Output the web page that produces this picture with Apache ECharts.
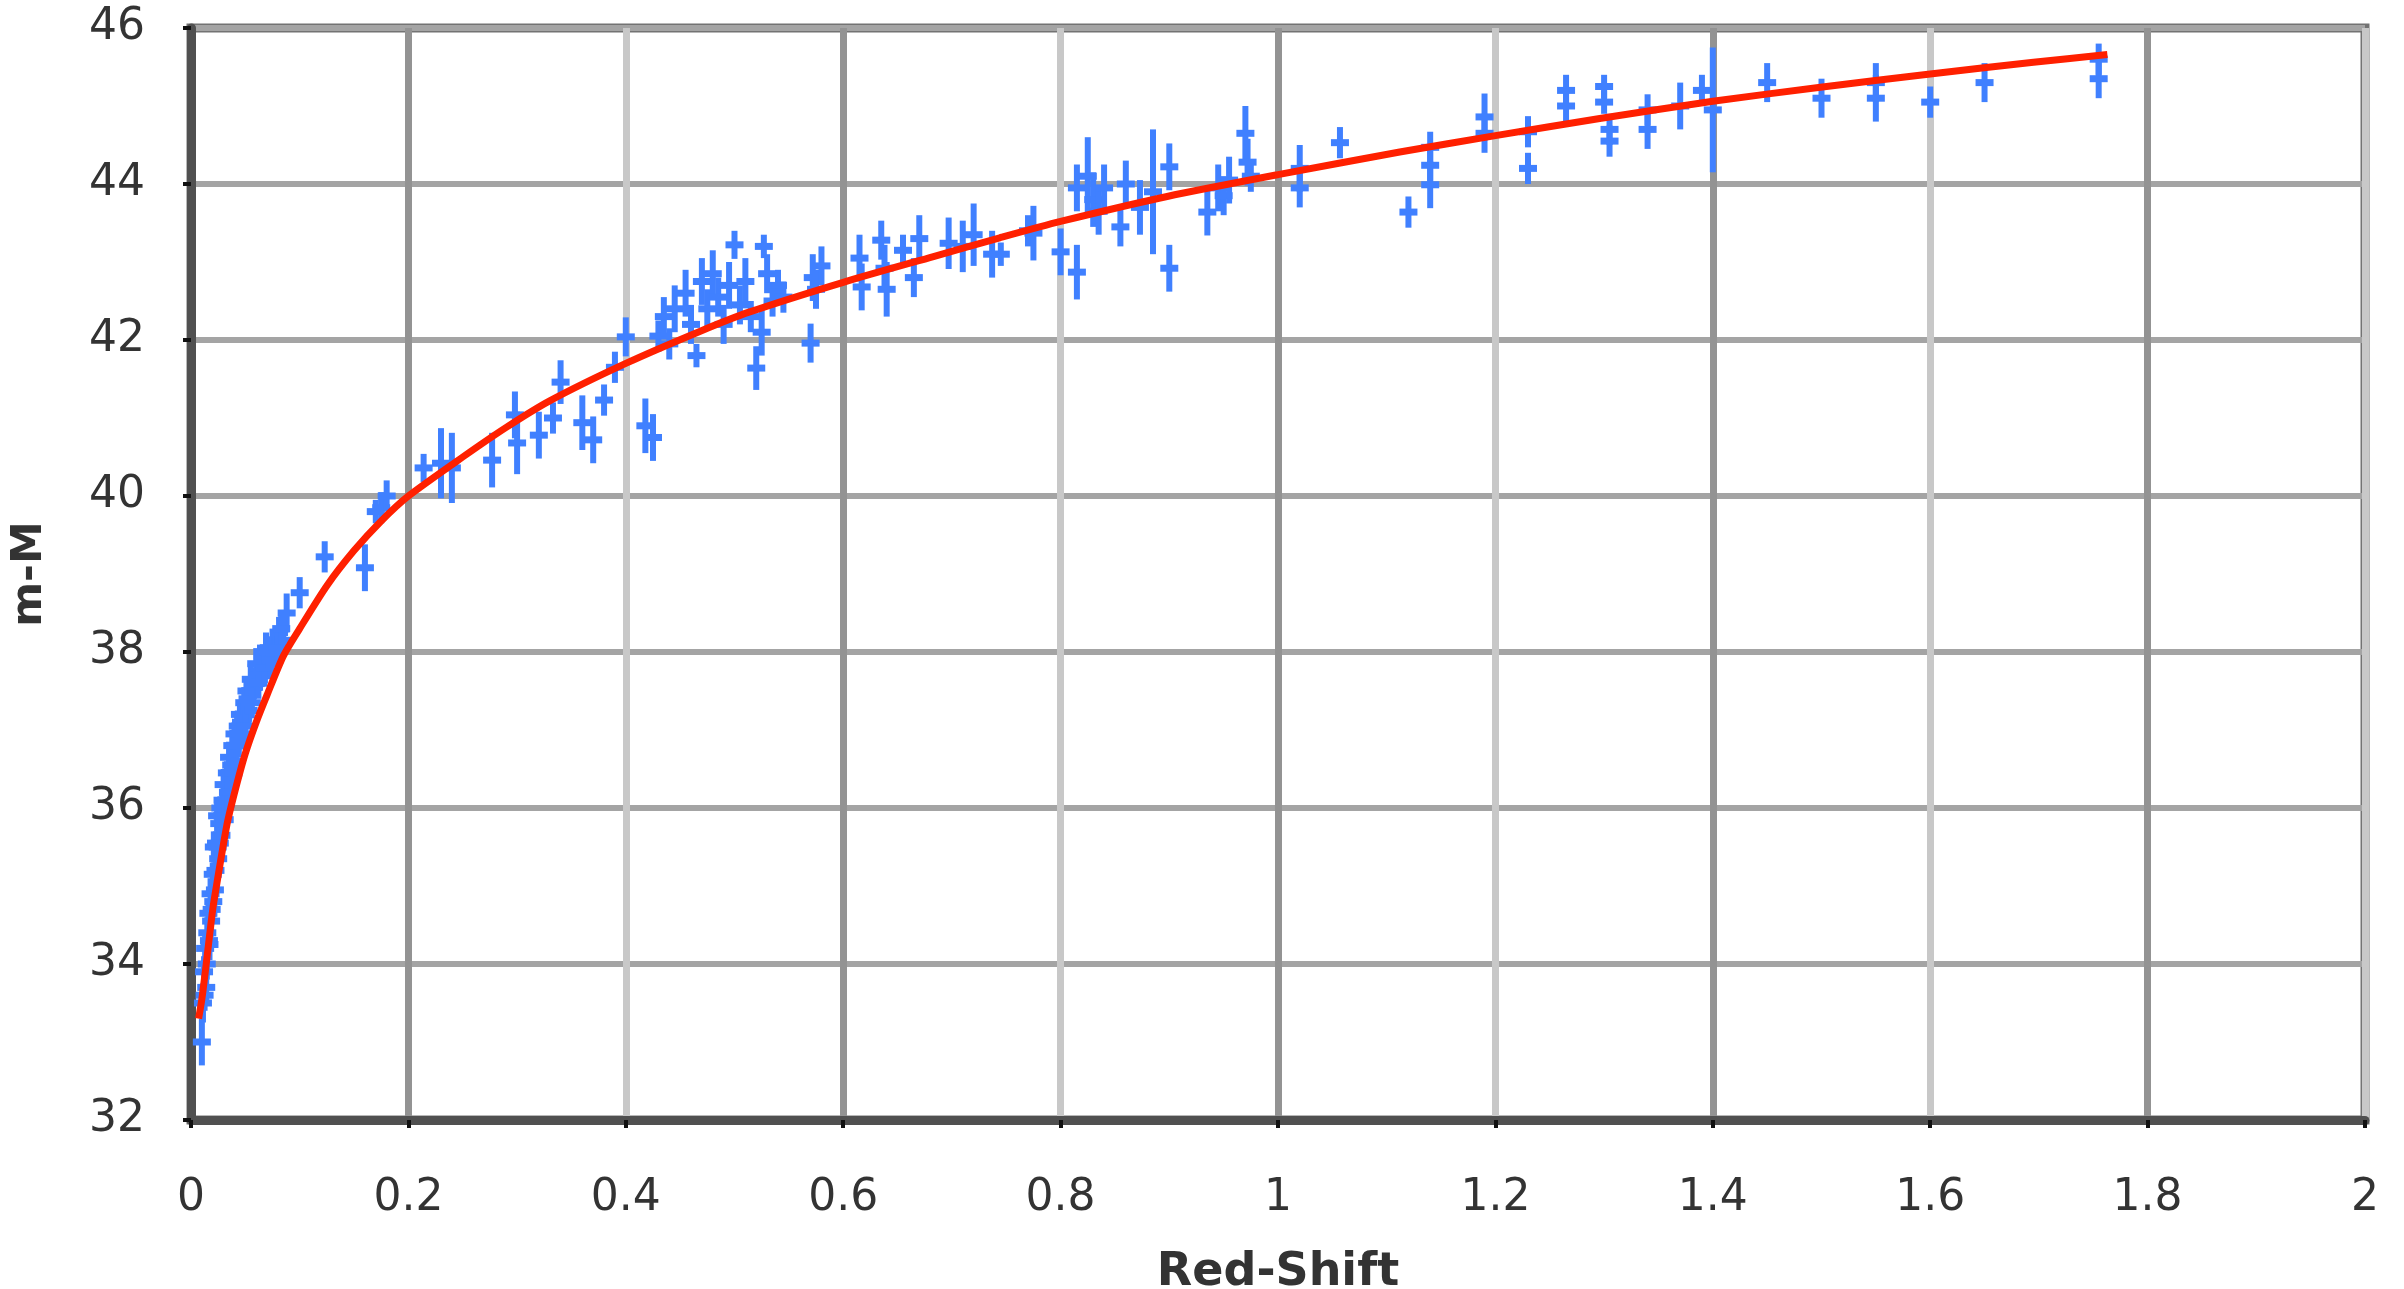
<!DOCTYPE html>
<html>
<head>
<meta charset="utf-8">
<script src="https://cdn.jsdelivr.net/npm/echarts@6/dist/echarts.min.js"></script>
<style>
html,body{margin:0;padding:0;background:#fff;}
#chart{width:2404px;height:1289px;}
</style>
</head>
<body>
<div id="chart"></div>
<script>
// Supernova data: red-shift, distance modulus (m-M), error
const snZ = [
0.010,0.011,0.012,0.013,0.014,0.015,0.016,0.017,0.018,0.019,
0.020,0.021,0.022,0.023,0.024,0.025,0.026,0.027,0.028,0.029,
0.030,0.032,0.033,0.035,0.036,0.038,0.040,0.041,0.043,0.045,
0.047,0.049,0.051,0.053,0.055,0.058,0.060,0.063,0.066,0.069,
0.072,0.075,0.078,0.081,0.085,0.088,0.100,
0.0125,0.0145,0.0165,0.0185,0.0205,0.0225,0.0245,0.0265,0.0285,0.031,
0.034,0.037,0.039,0.042,0.044,0.046,0.048,0.050,0.052,0.056,
0.062,0.065,0.068,0.071,0.074,0.080,0.083,
0.123,0.160,0.170,0.175,0.180,0.214,0.230,0.240,0.277,0.298,
0.300,0.320,0.333,0.340,0.360,0.370,0.380,0.390,0.400,0.418,0.425,
0.430,0.435,0.440,0.445,0.455,0.460,0.465,0.470,0.475,0.480,
0.485,0.490,0.495,0.500,0.505,0.510,0.515,0.520,0.525,0.527,
0.530,0.535,0.540,0.545,0.570,0.572,0.575,0.580,
0.615,0.617,0.635,0.638,0.640,0.655,0.665,0.670,0.697,0.710,
0.720,0.737,0.745,0.770,0.775,0.800,0.815,0.815,0.825,0.830,
0.835,0.840,0.855,0.860,0.873,0.885,0.900,0.900,0.935,0.945,
0.950,0.955,0.970,0.972,0.975,1.020,1.020,1.057,1.120,1.140,
1.140,1.140,1.190,1.190,1.230,1.230,1.265,1.265,1.300,1.300,
1.305,1.305,1.340,1.340,1.370,1.390,1.400,1.450,1.500,1.550,
1.550,1.600,1.650,1.755,1.755
];
const snMu = [
33.00,33.50,33.90,34.20,33.70,34.40,34.65,34.25,34.90,34.70,
35.15,35.50,34.95,35.55,35.90,35.35,35.80,36.00,35.65,36.10,
36.30,36.05,36.45,36.65,36.35,36.80,36.95,36.60,37.05,37.20,
36.95,37.35,37.50,37.25,37.65,37.55,37.85,37.70,37.95,38.05,
37.85,38.15,38.00,38.25,38.15,38.50,38.76,
33.60,34.00,34.30,34.55,34.80,35.20,35.50,35.55,35.90,35.85,
36.20,36.55,36.45,36.80,36.85,37.10,37.15,37.05,37.40,37.35,
37.60,37.75,37.80,38.00,37.90,38.05,38.30,
39.22,39.08,39.80,39.85,40.00,40.36,40.42,40.36,40.46,41.04,
40.68,40.78,41.00,41.46,40.94,40.72,41.23,41.65,42.04,40.90,40.75,
42.05,42.30,41.95,42.40,42.60,42.20,41.80,42.75,42.40,42.85,
42.55,42.20,42.70,43.22,42.45,42.75,42.30,41.64,42.10,43.20,
42.85,42.50,42.70,42.55,41.96,42.80,42.65,42.95,
43.05,42.68,43.28,42.92,42.65,43.15,42.80,43.30,43.24,43.20,
43.35,43.10,43.10,43.40,43.37,43.13,42.87,43.95,44.10,43.80,
43.65,43.95,43.45,44.00,43.70,43.90,44.22,42.92,43.64,43.95,
43.85,44.05,44.65,44.28,44.10,44.20,43.95,44.53,43.64,44.47,
44.24,43.99,44.86,44.65,44.67,44.20,45.20,45.00,45.25,45.05,
44.70,44.55,44.95,44.70,45.00,45.20,44.95,45.30,45.10,45.30,
45.10,45.05,45.30,45.60,45.35
];
const snErr = [
0.30,0.25,0.20,0.20,0.20,0.20,0.15,0.20,0.20,0.15,
0.15,0.20,0.20,0.15,0.20,0.15,0.20,0.15,0.20,0.15,
0.20,0.20,0.15,0.20,0.15,0.20,0.15,0.20,0.20,0.15,
0.20,0.20,0.15,0.20,0.20,0.15,0.20,0.20,0.15,0.20,
0.20,0.15,0.20,0.20,0.20,0.25,0.20,
0.20,0.20,0.20,0.20,0.20,0.20,0.20,0.20,0.20,0.20,
0.20,0.20,0.20,0.20,0.20,0.20,0.20,0.20,0.20,0.20,
0.20,0.20,0.20,0.20,0.20,0.20,0.20,
0.20,0.30,0.15,0.20,0.20,0.18,0.45,0.45,0.35,0.30,
0.40,0.30,0.20,0.28,0.35,0.30,0.20,0.20,0.25,0.35,0.30,
0.20,0.25,0.20,0.30,0.30,0.25,0.15,0.30,0.25,0.30,
0.25,0.25,0.30,0.18,0.25,0.30,0.20,0.28,0.30,0.15,
0.25,0.20,0.20,0.20,0.25,0.30,0.25,0.25,
0.30,0.30,0.25,0.30,0.35,0.20,0.25,0.30,0.33,0.33,
0.40,0.30,0.15,0.20,0.35,0.30,0.35,0.30,0.50,0.35,
0.30,0.30,0.25,0.30,0.35,0.80,0.30,0.30,0.30,0.30,
0.25,0.30,0.35,0.30,0.20,0.30,0.25,0.20,0.20,0.20,
0.20,0.30,0.30,0.25,0.20,0.20,0.20,0.20,0.15,0.15,
0.20,0.20,0.20,0.25,0.30,0.20,0.80,0.25,0.25,0.25,
0.30,0.20,0.25,0.20,0.25
];
// Model curve
const fitZ  = [0.007,0.010,0.014,0.020,0.024,0.030,0.034,0.042,0.050,0.060,0.070,0.085,0.100,0.125,0.150,0.175,0.200,0.250,0.290,0.330,0.400,0.468,0.514,0.600,0.683,0.744,0.800,0.898,1.000,1.112,1.200,1.296,1.400,1.499,1.600,1.695,1.763];
const fitMu = [33.30,33.55,34.00,34.70,35.05,35.55,35.85,36.30,36.70,37.10,37.45,37.95,38.30,38.85,39.30,39.68,40.00,40.50,40.88,41.22,41.70,42.11,42.36,42.74,43.07,43.31,43.52,43.84,44.12,44.41,44.62,44.84,45.06,45.24,45.41,45.56,45.66];

const xTicks = {min:0, max:2, interval:0.2};
const yTicks = {min:32, max:46, interval:2};

const snData = snZ.map((z,i)=>[z, snMu[i], snErr[i]]);
const fitData = fitZ.map((z,i)=>[z, fitMu[i]]);

const FONT = "'DejaVu Sans', Verdana, sans-serif";
const BLUE = '#4080ff';

const chart = echarts.init(document.getElementById('chart'), null, {renderer:'canvas'});
chart.setOption({
  animation:false,
  backgroundColor:'#ffffff',
  grid:{left:191, right:39, top:28, bottom:169, show:true, borderColor:'#737373', borderWidth:9, containLabel:false, outerBoundsMode:'none'},
  xAxis:{
    type:'value', min:xTicks.min, max:xTicks.max, interval:xTicks.interval,
    name:'Red-Shift', nameLocation:'middle', nameGap:130,
    nameTextStyle:{fontFamily:FONT, fontWeight:'bold', fontSize:46, color:'#333'},
    axisLine:{show:true, onZero:false, lineStyle:{color:'#505050', width:9}},
    axisTick:{show:true, inside:false, length:8, lineStyle:{color:'#111', width:4}},
    axisLabel:{fontFamily:FONT, fontSize:44, color:'#333', margin:57},
    splitLine:{show:true, lineStyle:{color:['#c8c8c8','#939393'], width:7}}
  },
  yAxis:{
    type:'value', min:yTicks.min, max:yTicks.max, interval:yTicks.interval,
    name:'m-M', nameLocation:'middle', nameGap:140, nameRotate:90,
    nameTextStyle:{fontFamily:FONT, fontWeight:'bold', fontSize:43, color:'#333'},
    axisLine:{show:true, onZero:false, lineStyle:{color:'#505050', width:9}},
    axisTick:{show:true, inside:false, length:8, lineStyle:{color:'#111', width:4}},
    axisLabel:{fontFamily:FONT, fontSize:44, color:'#333', margin:46},
    splitLine:{show:true, lineStyle:{color:'#a4a4a4', width:6}}
  },
  series:[
    {
      type:'custom', name:'SNe', data:snData, z:2,
      renderItem:function(params, api){
        const x = api.value(0), y = api.value(1), e = api.value(2);
        const top = api.coord([x, y+e]);
        const bot = api.coord([x, y-e]);
        const c = api.coord([x, y]);
        return {type:'group', children:[
          {type:'line', shape:{x1:top[0], y1:top[1], x2:bot[0], y2:bot[1]}, style:{stroke:BLUE, lineWidth:6}},
          {type:'line', shape:{x1:c[0]-9, y1:c[1], x2:c[0]+9, y2:c[1]}, style:{stroke:BLUE, lineWidth:7}}
        ]};
      }
    },
    {
      type:'line', name:'Model', data:fitData, z:3, smooth:0.25,
      showSymbol:false, symbol:'none',
      lineStyle:{color:'#ff2000', width:7}
    }
  ]
});
</script>
</body>
</html>
